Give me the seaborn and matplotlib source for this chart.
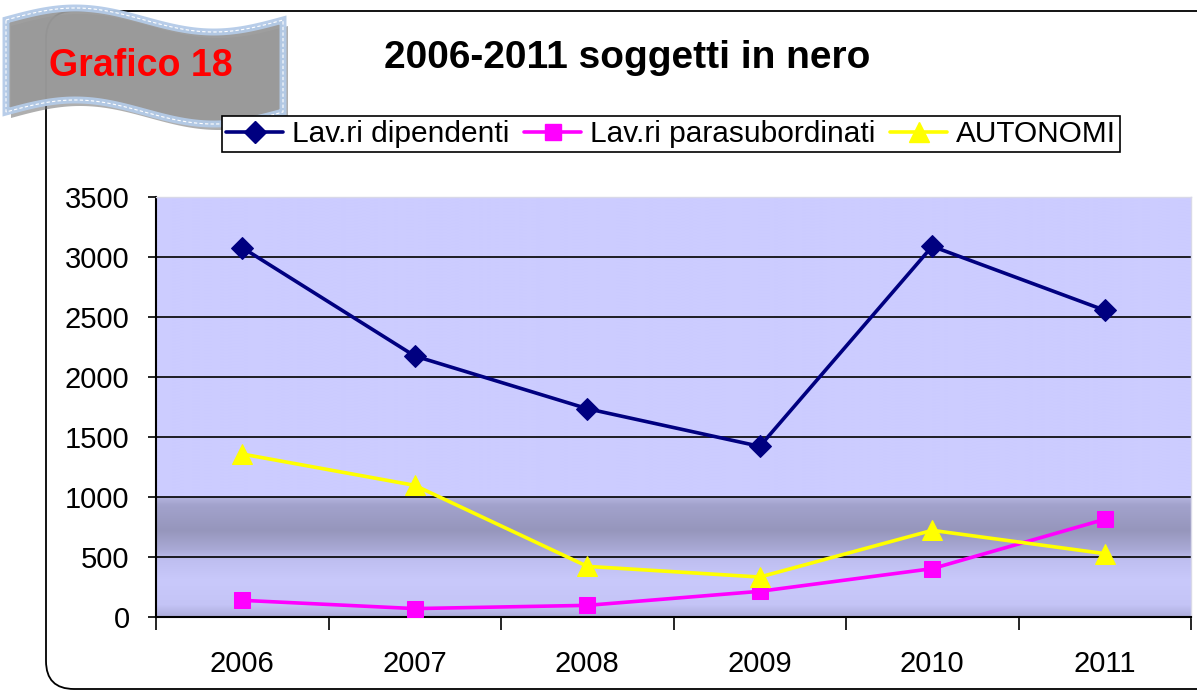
import numpy as np
import pandas as pd
import seaborn as sns
import matplotlib.pyplot as plt
from matplotlib.patches import Polygon, FancyBboxPatch
from matplotlib.ticker import FixedLocator

# --- Data ---
years = ["2006", "2007", "2008", "2009", "2010", "2011"]
dipendenti = [3078, 2175, 1736, 1422, 3089, 2556]
parasubordinati = [139, 70, 97, 214, 403, 814]
autonomi = [1358, 1097, 422, 333, 722, 528]

series_names = ["Lav.ri dipendenti", "Lav.ri parasubordinati", "AUTONOMI"]
series_values = [dipendenti, parasubordinati, autonomi]
series_colors = ["#000080", "#FF00FF", "#FFFF00"]
series_markers = ["D", "s", "^"]
series_msize = [11, 12, 14]

df = pd.DataFrame({
    "anno": years * 3,
    "valore": dipendenti + parasubordinati + autonomi,
    "serie": [n for n in series_names for _ in years],
})

sns.set_theme(style="white")
plt.rcParams["font.family"] = ["Liberation Sans", "DejaVu Sans"]
plt.rcParams["text.color"] = "black"
plt.rcParams["xtick.color"] = "black"
plt.rcParams["ytick.color"] = "black"

W, H = 1197, 693
fig = plt.figure(figsize=(W / 100, H / 100), dpi=100)

# --- background layer in pixel coords (border) ---
bg = fig.add_axes([0, 0, 1, 1], zorder=0)
bg.set_xlim(0, W)
bg.set_ylim(H, 0)
bg.axis("off")
bg.add_patch(FancyBboxPatch((46, 11), 1200, 678, boxstyle="round,pad=0,rounding_size=28",
                            fc="white", ec="black", lw=1.3))

# --- main plot ---
ax = fig.add_axes([156 / W, 1 - 617 / H, (1191 - 156) / W, (617 - 197) / H], zorder=2)

# horizon gradient in the plot area
yy = np.linspace(0, 3500, 1400)
stops_v = [0, 100, 300, 480, 560, 720, 930, 999.9, 1000.1, 3500]
stops_c = np.array([(172, 172, 218), (196, 196, 246), (201, 201, 251), (190, 190, 240),
                    (170, 170, 214), (150, 150, 188), (162, 162, 204), (180, 180, 222),
                    (204, 204, 255), (204, 204, 255)]) / 255
grad = np.stack([np.interp(yy, stops_v, stops_c[:, k]) for k in range(3)], axis=-1)
ax.imshow(grad[:, None, :], extent=(-0.5, 5.5, 0, 3500), aspect="auto",
          origin="lower", zorder=0)

for y in range(500, 3500, 500):
    ax.axhline(y, color="black", lw=1.2, zorder=1)

for name, col, mk, ms in zip(series_names, series_colors, series_markers, series_msize):
    sns.lineplot(data=df[df["serie"] == name], x="anno", y="valore", color=col,
                 marker=mk, markersize=ms, markeredgecolor=col, lw=2.6,
                 label=name, ax=ax, zorder=3, legend=False)

ax.set_xlim(-0.5, 5.5)
ax.set_ylim(0, 3500)
ax.set_yticks(range(0, 3501, 500))
ax.xaxis.set_major_locator(FixedLocator(range(6)))
ax.set_xticklabels(years)
ax.xaxis.set_minor_locator(FixedLocator(np.arange(-0.5, 6, 1)))
ax.tick_params(axis="x", which="major", length=0, pad=24, labelsize=21)
ax.tick_params(axis="x", which="minor", length=9, width=1.2, color="black", direction="out", bottom=True)
ax.tick_params(axis="y", length=6, width=1.2, color="black", direction="out", left=True, pad=13, labelsize=21)
ax.set_xlabel("")
ax.set_ylabel("")
for s in ["left", "bottom"]:
    ax.spines[s].set_color("black")
    ax.spines[s].set_linewidth(1.5)
for s in ["top", "right"]:
    ax.spines[s].set_color("#d8d8e8")
    ax.spines[s].set_linewidth(1)

# --- banner "Grafico 18" ---
ban = fig.add_axes([0, 0, 1, 1], zorder=4)
ban.set_xlim(0, W)
ban.set_ylim(H, 0)
ban.axis("off")
t = np.linspace(0, 1, 200)
bx = 6 + 277 * t
top = 20 - 12 * np.sin(2 * np.pi * t)
bot = 112 - 12 * np.sin(2 * np.pi * t)
shape = np.concatenate([np.column_stack([bx, top]), np.column_stack([bx[::-1], bot[::-1]])])
shadow = shape + np.array([5, 6])
ban.add_patch(Polygon(shadow, closed=True, fc="#7a7a7a", ec="none", alpha=0.6))
ban.add_patch(Polygon(shape, closed=True, fc="#999999", ec="#b4cbe8", lw=5, alpha=0.95))
ban.add_patch(Polygon(shape, closed=True, fc="none", ec="white", lw=0.8, ls=(0, (3, 2))))
ban.text(141, 66, "Grafico 18", color="#FF0000", fontsize=27, fontweight="bold",
         ha="center", va="center")

# --- title ---
fig.text(627 / W, 1 - 58 / H, "2006-2011 soggetti in nero", fontsize=28,
         fontweight="bold", ha="center", va="center", color="black")

# --- legend ---
handles = [plt.Line2D([], [], color=c, marker=m, markersize=s, lw=2.6, markeredgecolor=c)
           for c, m, s in zip(series_colors, series_markers, series_msize)]
leg = fig.legend(handles, series_names, loc="center", bbox_to_anchor=(671 / W, 1 - 134 / H),
                 ncol=3, fontsize=21.5, frameon=True, fancybox=False, edgecolor="black",
                 facecolor="white", framealpha=1, handlelength=1.9, handletextpad=0.3,
                 columnspacing=0.5, borderpad=0.15, borderaxespad=0)
leg.get_frame().set_linewidth(1.2)
leg.set_zorder(5)

fig.savefig("out.png", dpi=100)
